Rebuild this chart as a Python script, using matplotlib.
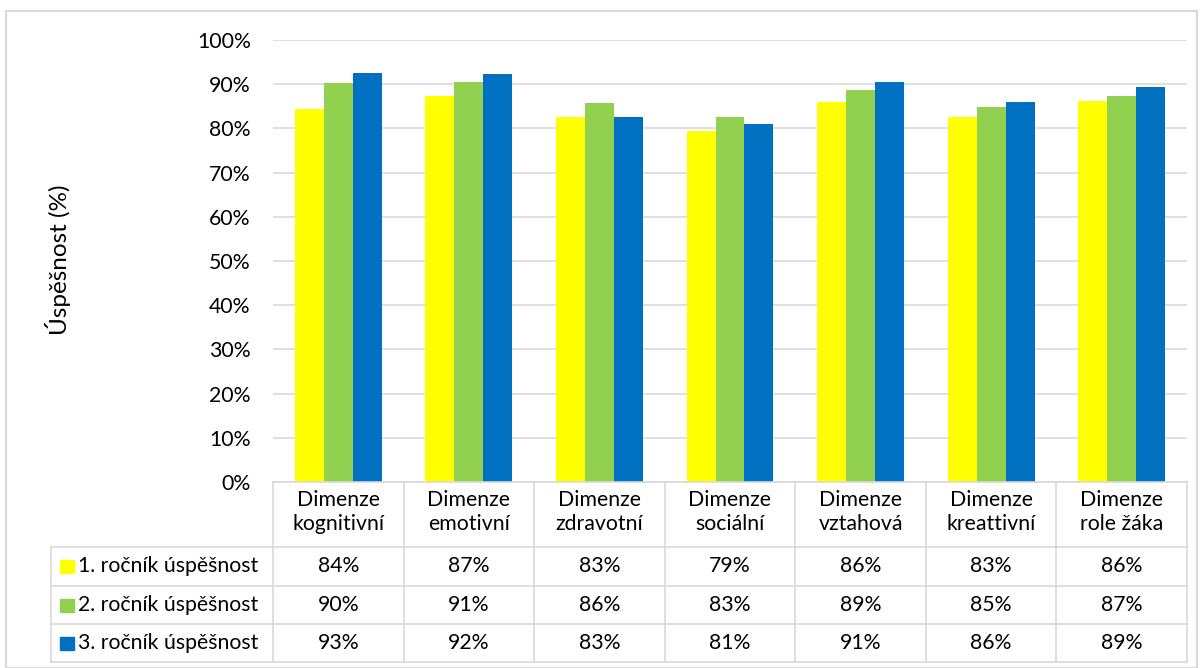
import numpy as np
import matplotlib.pyplot as plt
from matplotlib.transforms import blended_transform_factory
from matplotlib.patches import Rectangle
from matplotlib.lines import Line2D

plt.rcParams['font.family'] = ['Lato', 'DejaVu Sans']

categories = ["Dimenze\nkognitivní", "Dimenze\nemotivní", "Dimenze\nzdravotní",
              "Dimenze\nsociální", "Dimenze\nvztahová", "Dimenze\nkreattivní",
              "Dimenze\nrole žáka"]
series_names = ["1. ročník úspěšnost", "2. ročník úspěšnost", "3. ročník úspěšnost"]
rocnik1 = [84.4, 87.4, 82.6, 79.3, 86.0, 82.6, 86.3]
rocnik2 = [90.3, 90.6, 85.8, 82.6, 88.7, 84.8, 87.3]
rocnik3 = [92.6, 92.2, 82.6, 81.1, 90.6, 86.0, 89.4]
colors = ["#FFFF00", "#92D050", "#0070C0"]

W, H = 1203, 668
fs = 15.3
fig = plt.figure(figsize=(W / 100, H / 100), dpi=100)

def fy(py):
    return 1 - py / H

def fx(px):
    return px / W

# plot area in pixels
left, right, top, bottom = 273, 1187, 40, 482
ax = fig.add_axes([fx(left), fy(bottom), fx(right) - fx(left), fy(top) - fy(bottom)])

x = np.arange(len(categories))
bw = 0.222
for k, vals in enumerate([rocnik1, rocnik2, rocnik3]):
    ax.bar(x + (k - 1) * bw, vals, width=bw, color=colors[k], zorder=3)

ax.set_xlim(-0.5, len(categories) - 0.5)
ax.set_ylim(0, 100)
ax.set_yticks(np.arange(0, 101, 10))
ax.set_yticklabels([f"{t}%" for t in range(0, 101, 10)], fontsize=fs)
ax.tick_params(axis='y', length=0, pad=16)
ax.set_xticks([])
ax.grid(axis='y', color='#D9D9D9', linewidth=1.2, zorder=0)
for s in ax.spines.values():
    s.set_visible(False)

fig.text(fx(58), fy(260), "Úspěšnost (%)", rotation=90, ha='center', va='center',
         fontsize=17.5)

# data table below the plot
tr = blended_transform_factory(ax.transData, fig.transFigure)
gc = '#D9D9D9'
rows_y = [482, 547, 586, 624, 662]
tab_left = 51

# horizontal lines
fig.add_artist(Line2D([fx(left), fx(right)], [fy(482)] * 2, color=gc, lw=1.2))
for py in rows_y[1:]:
    fig.add_artist(Line2D([fx(tab_left), fx(right)], [fy(py)] * 2, color=gc, lw=1.2))
# vertical lines
for i in range(len(categories) + 1):
    fig.add_artist(Line2D([i - 0.5, i - 0.5], [fy(482), fy(662)], color=gc, lw=1.2,
                          transform=tr))
fig.add_artist(Line2D([fx(tab_left)] * 2, [fy(547), fy(662)], color=gc, lw=1.2))

# header
for i, c in enumerate(categories):
    fig.text(i, fy(512), c, transform=tr, ha='center', va='center', fontsize=fs,
             linespacing=1.2)

# rows
for r, (name, vals) in enumerate(zip(series_names, [rocnik1, rocnik2, rocnik3])):
    yc = (rows_y[r + 1] + rows_y[r + 2]) / 2
    fig.add_artist(Rectangle((fx(60), fy(yc + 6.5)), fx(14), 13 / H,
                             color=colors[r], transform=fig.transFigure))
    fig.text(fx(78), fy(yc), name, ha='left', va='center', fontsize=fs)
    for i, v in enumerate(vals):
        fig.text(i, fy(yc), f"{v:.0f}%", transform=tr, ha='center', va='center',
                 fontsize=fs)

# outer chart border
fig.add_artist(Rectangle((fx(6), fy(668)), fx(1191), fy(11) - fy(668), fill=False,
                         edgecolor='#D9D9D9', lw=1.5, transform=fig.transFigure))

fig.savefig("out.png", dpi=100)
